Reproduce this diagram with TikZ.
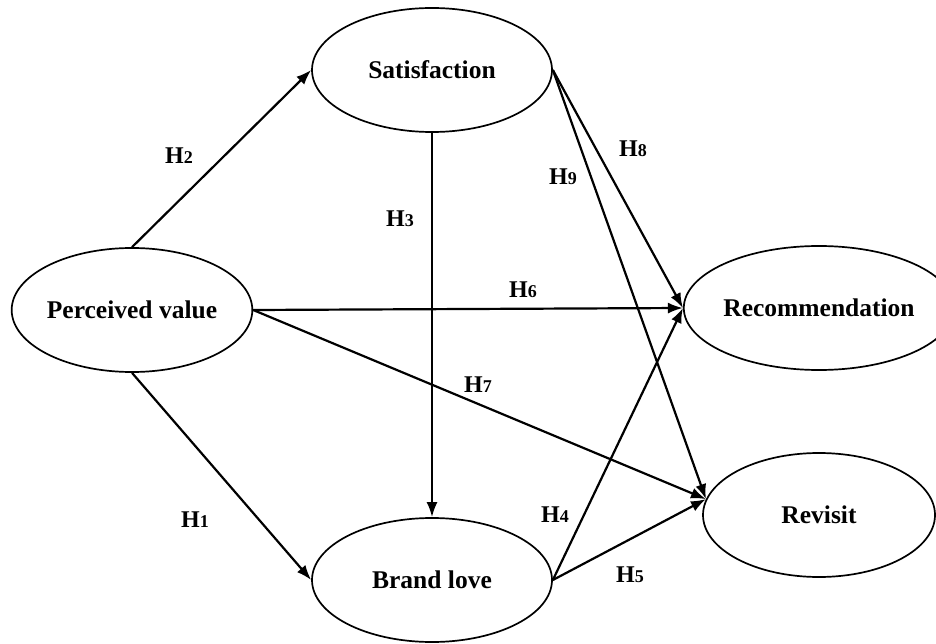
\documentclass[tikz,border=0pt]{standalone}
\usepackage{fontspec}
\setmainfont{Liberation Serif}
\usetikzlibrary{shapes.geometric,arrows.meta}
\tikzset{
  construct/.style={ellipse, draw=black, line width=1.7pt, minimum width=240pt, minimum height=124pt, inner sep=0pt, font=\bfseries\fontsize{25.5}{25.5}\selectfont},
  path/.style={line width=2.2pt, -{Latex[length=15pt,width=11pt]}},
  hyp/.style={inner sep=0pt, font=\bfseries}
}
\newcommand{\hlab}[1]{{\fontsize{24}{24}\selectfont H}{\fontsize{18}{18}\selectfont #1}}
\begin{document}
\begin{tikzpicture}[x=1pt,y=-1pt]
\useasboundingbox (0,0) rectangle (936,644);
\node[construct] (pv) at (132,310) {Perceived value};
\node[construct] (sat) at (432,70) {Satisfaction};
\node[construct] (bl) at (432,580) {Brand love};
\node[construct, minimum width=232pt] (rec) at (819,308) {Recommendation};
\node[construct, minimum width=232pt] (rev) at (819,515) {Revisit};

\draw[path] (pv.north) -- (sat.west);
\draw[path] (pv.south) -- (bl.west);
\draw[path] (sat.south) -- (bl.north);
\draw[path] (pv.east) -- (rec.west);
\draw[path] (pv.east) -- (rev.172);
\draw[path] (sat.east) -- (rec.west);
\draw[path] (sat.east) -- (rev.172);
\draw[path] (bl.east) -- (rec.west);
\draw[path] (bl.east) -- (rev.172);

\node[hyp] (h2) at (179,156) {\hlab{2}};
\node[hyp] (h1) at (195,520) {\hlab{1}};
\node[hyp] (h3) at (400,219) {\hlab{3}};
\node[hyp] (h6) at (523,290) {\hlab{6}};
\node[hyp] (h7) at (478,385) {\hlab{7}};
\node[hyp] (h9) at (563,177) {\hlab{9}};
\node[hyp] (h8) at (633,149) {\hlab{8}};
\node[hyp] (h4) at (555,515) {\hlab{4}};
\node[hyp] (h5) at (630,575) {\hlab{5}};
\end{tikzpicture}
\end{document}
